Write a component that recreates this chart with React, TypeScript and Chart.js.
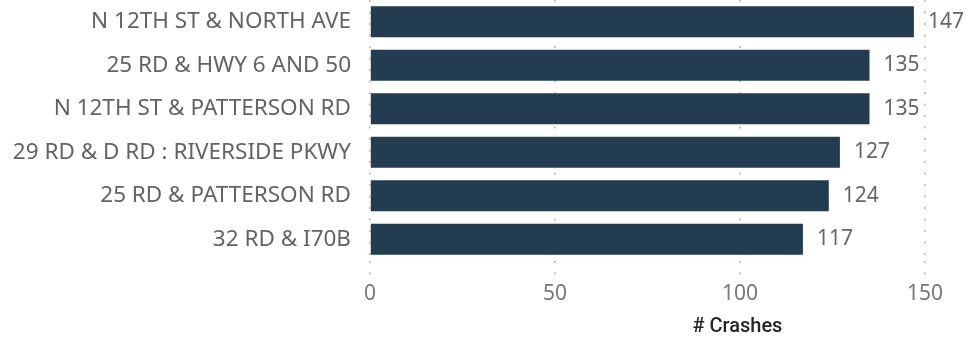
import React, { useEffect, useRef } from "react";
import { Chart, registerables } from "chart.js";

Chart.register(...registerables);

const categories = [
  "N 12TH ST & NORTH AVE",
  "25 RD & HWY 6 AND 50",
  "N 12TH ST & PATTERSON RD",
  "29 RD & D RD : RIVERSIDE PKWY",
  "25 RD & PATTERSON RD",
  "32 RD & I70B",
];
const crashes = [147, 135, 135, 127, 124, 117];
const xTicks = [0, 50, 100, 150];
const axisTitle = "# Crashes";

const LABEL_FONT = "'Noto Sans', 'Open Sans', sans-serif";

export default function App() {
  const ref = useRef<HTMLCanvasElement>(null);

  useEffect(() => {
    document.body.style.margin = "0";
    const canvas = ref.current!;
    const dataLabels = {
      id: "dataLabels",
      afterDatasetsDraw(chart: any) {
        const ctx = chart.ctx;
        const meta = chart.getDatasetMeta(0);
        ctx.save();
        ctx.font = `21px ${LABEL_FONT}`;
        ctx.fillStyle = "#666666";
        ctx.textAlign = "left";
        ctx.textBaseline = "middle";
        meta.data.forEach((bar: any, i: number) => {
          ctx.fillText(String(crashes[i]), bar.x + 14, bar.y);
        });
        ctx.restore();
      },
    };
    const titlePlugin = {
      id: "axisTitle",
      afterDraw(chart: any) {
        const ctx = chart.ctx;
        const a = chart.chartArea;
        ctx.save();
        ctx.font = "500 20px Roboto, sans-serif";
        ctx.fillStyle = "#252423";
        ctx.textAlign = "center";
        ctx.textBaseline = "middle";
        ctx.fillText(axisTitle, a.left + (a.right - a.left) * 0.662, chart.height - 12);
        ctx.restore();
      },
    };
    const chart = new Chart(canvas, {
      type: "bar",
      data: {
        labels: categories,
        datasets: [
          {
            data: crashes,
            backgroundColor: "#233c4f",
            borderWidth: 0,
            barPercentage: 0.71,
            categoryPercentage: 1,
          },
        ],
      },
      options: {
        indexAxis: "y",
        animation: false,
        responsive: false,
        maintainAspectRatio: false,
        layout: { padding: { left: 0, right: 44, top: 0, bottom: 0 } },
        plugins: {
          legend: { display: false },
          tooltip: { enabled: false },
        },
        scales: {
          x: {
            min: 0,
            max: 150,
            afterBuildTicks(scale: any) {
              scale.ticks = xTicks.map((v) => ({ value: v }));
            },
            afterFit(scale: any) {
              scale.height = 78;
            },
            border: { display: false, dash: [2, 9.5] },
            grid: {
              color: "#b8b8b8",
              lineWidth: 1.6,
              tickBorderDash: [2, 9.5],
              tickColor: "#b8b8b8",
              tickWidth: 1.6,
              tickLength: 16,
              drawTicks: true,
            },
            ticks: {
              color: "#777777",
              font: { family: LABEL_FONT, size: 21 },
              padding: 4,
            },
          },
          y: {
            afterFit(scale: any) {
              scale.width = 370;
              scale.paddingTop = 0;
              scale.paddingBottom = 0;
            },
            border: { display: false },
            grid: { display: false, drawTicks: false },
            ticks: {
              color: "#636363",
              font: { family: LABEL_FONT, size: 22.5 },
              padding: 19,
            },
          },
        },
      },
      plugins: [dataLabels, titlePlugin],
    });
    return () => chart.destroy();
  }, []);

  return <canvas ref={ref} width={969} height={339} style={{ display: "block" }} />;
}
